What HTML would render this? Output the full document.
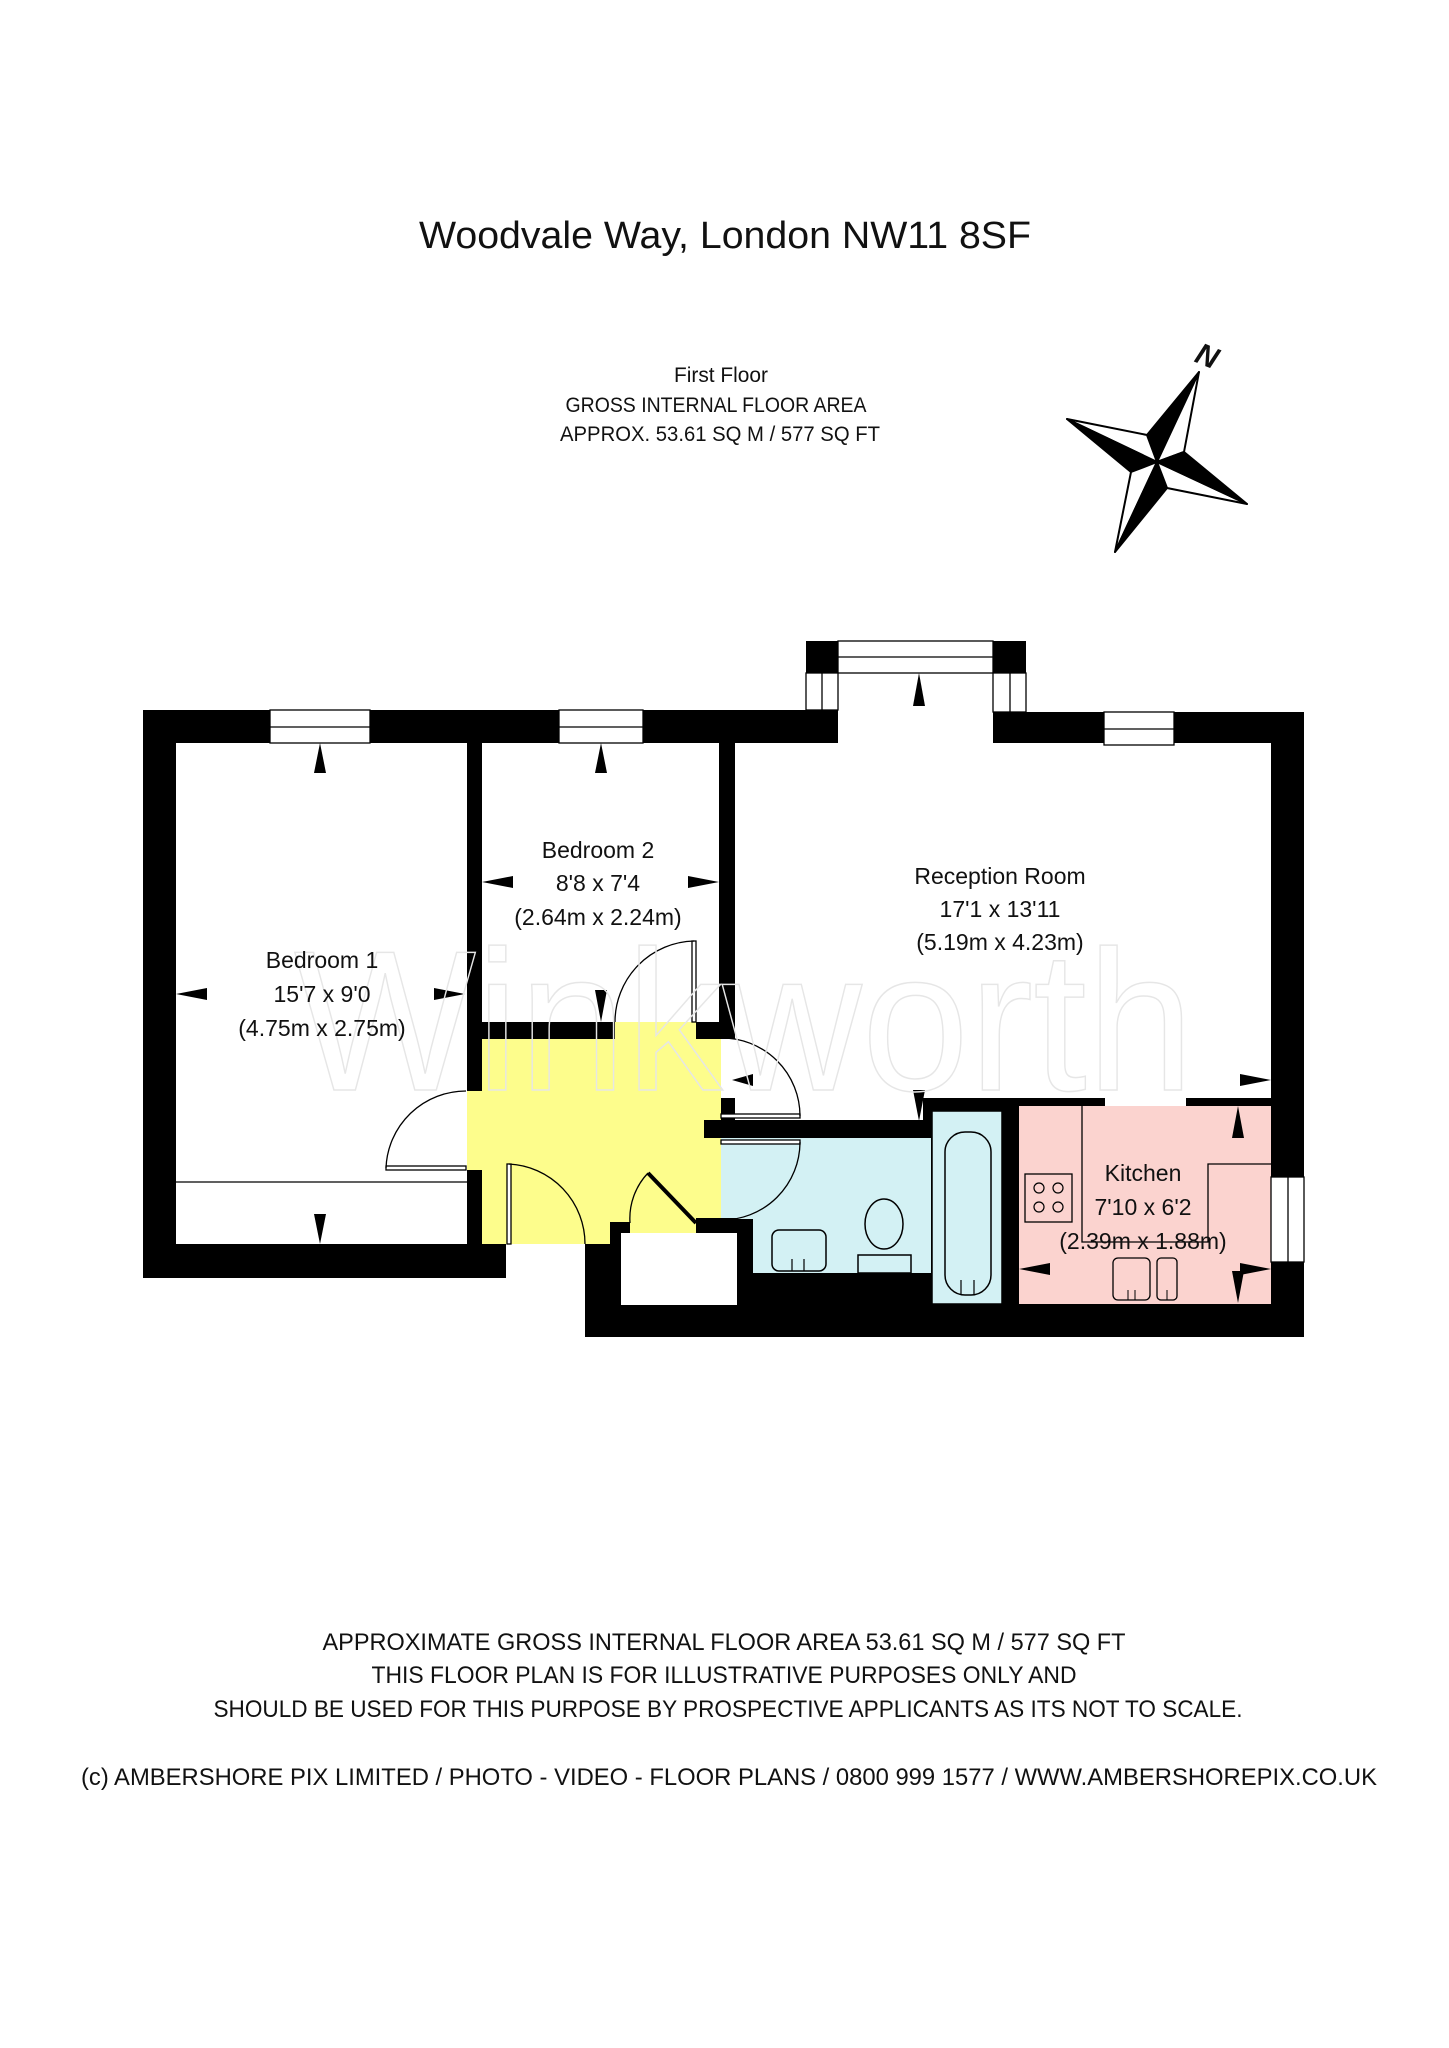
<!DOCTYPE html>
<html><head><meta charset="utf-8"><style>
html,body{margin:0;padding:0;background:#fff;}
svg{display:block;}
text{font-family:"Liberation Sans",sans-serif;fill:#111;}
</style></head><body>
<svg width="1449" height="2048" viewBox="0 0 1449 2048" xmlns="http://www.w3.org/2000/svg">
<rect width="1449" height="2048" fill="#fff"/>
<text x="725" y="248" font-size="38" text-anchor="middle" textLength="612" lengthAdjust="spacingAndGlyphs">Woodvale Way, London NW11 8SF</text>
<text x="721" y="382" font-size="21" text-anchor="middle" textLength="94" lengthAdjust="spacingAndGlyphs">First Floor</text>
<text x="716" y="412" font-size="21" text-anchor="middle" textLength="301" lengthAdjust="spacingAndGlyphs">GROSS INTERNAL FLOOR AREA</text>
<text x="720" y="441" font-size="21" text-anchor="middle" textLength="320" lengthAdjust="spacingAndGlyphs">APPROX. 53.61 SQ M / 577 SQ FT</text>

<!-- compass -->
<g stroke="#000" stroke-width="2" stroke-linejoin="round">
<polygon points="1157,462 1199,372 1147,435" fill="#000"/>
<polygon points="1157,462 1199,372 1184,452" fill="#fff"/>
<polygon points="1157,462 1067,419 1147,435" fill="#fff"/>
<polygon points="1157,462 1067,419 1131,472" fill="#000"/>
<polygon points="1157,462 1115,552 1131,472" fill="#fff"/>
<polygon points="1157,462 1115,552 1167,488" fill="#000"/>
<polygon points="1157,462 1247,504 1167,488" fill="#fff"/>
<polygon points="1157,462 1247,504 1184,452" fill="#000"/>
</g>
<text x="1207" y="366" font-size="30" font-weight="bold" font-style="italic" text-anchor="middle" transform="rotate(22 1207 356)">N</text>

<!-- walls base -->
<g fill="#000">
<rect x="143" y="710" width="363" height="568"/>
<rect x="467" y="710" width="268" height="329"/>
<rect x="735" y="710" width="103" height="33"/>
<rect x="806" y="641" width="32" height="102"/>
<rect x="993" y="641" width="33" height="104"/>
<rect x="993" y="712" width="311" height="625"/>
<rect x="585" y="1098" width="719" height="239"/>
</g>
<!-- rooms -->
<rect x="176" y="743" width="291" height="501" fill="#fff"/>
<rect x="482" y="743" width="237" height="279" fill="#fff"/>
<rect x="735" y="743" width="536" height="355" fill="#fff"/>
<rect x="838" y="673" width="155" height="72" fill="#fff"/>
<rect x="735" y="1098" width="188" height="23" fill="#fff"/>
<rect x="1105" y="1098" width="81" height="10" fill="#fff"/>
<!-- hall -->
<polygon points="482,1039 615,1039 615,1022 696,1022 696,1039 721,1039 721,1222 610,1222 610,1244 482,1244" fill="#fdfd8c"/>
<rect x="467" y="1091" width="16" height="79" fill="#fdfd8c"/>
<!-- lower white gap & cupboard -->
<rect x="506" y="1244" width="79" height="34" fill="#fff"/>
<rect x="630" y="1222" width="66" height="11" fill="#fdfd8c"/>
<rect x="621" y="1233" width="116" height="72" fill="#fff"/>
<!-- bathroom -->
<rect x="704" y="1120" width="219" height="18" fill="#000"/>
<polygon points="721,1138 931,1138 931,1273 753,1273 753,1219 721,1219" fill="#d3f1f4"/>
<rect x="721" y="1138" width="0" height="0"/>
<rect x="932" y="1111" width="70" height="193" fill="#d3f1f4" stroke="#000" stroke-width="1.5"/>
<rect x="945" y="1132" width="46" height="163" rx="20" fill="none" stroke="#000" stroke-width="1.5"/>
<path d="M961 1295 v-15 M974 1295 v-15" stroke="#000" stroke-width="1.2"/>
<rect x="772" y="1230" width="54" height="41" rx="7" fill="none" stroke="#000" stroke-width="1.5"/>
<path d="M792 1271 v-12 M804 1271 v-12" stroke="#000" stroke-width="1.2"/>
<ellipse cx="884" cy="1224" rx="19" ry="25" fill="none" stroke="#000" stroke-width="1.5"/>
<rect x="858" y="1255" width="53" height="18" fill="none" stroke="#000" stroke-width="1.5"/>
<!-- kitchen -->
<rect x="1019" y="1106" width="252" height="198" fill="#fbd3cf"/>
<path d="M1082 1106 V1242 H1208 V1164 H1271" fill="none" stroke="#000" stroke-width="1.3"/>
<rect x="1025" y="1174" width="47" height="48" fill="none" stroke="#000" stroke-width="1.3"/>
<g fill="none" stroke="#000" stroke-width="1.2"><circle cx="1039" cy="1188" r="5"/><circle cx="1058" cy="1188" r="5"/><circle cx="1039" cy="1207" r="5"/><circle cx="1058" cy="1207" r="5"/></g>
<rect x="1113" y="1258" width="37" height="42" rx="5" fill="none" stroke="#000" stroke-width="1.3"/>
<rect x="1157" y="1258" width="20" height="42" rx="4" fill="none" stroke="#000" stroke-width="1.3"/>
<path d="M1128 1300 v-10 M1135 1300 v-10 M1167 1300 v-10" stroke="#000" stroke-width="1"/>

<!-- windows -->
<g fill="#fff" stroke="#000" stroke-width="1.3">
<rect x="270" y="710" width="100" height="33"/><line x1="270" y1="727" x2="370" y2="727"/>
<rect x="559" y="710" width="84" height="33"/><line x1="559" y1="727" x2="643" y2="727"/>
<rect x="1104" y="712" width="70" height="33"/><line x1="1104" y1="729" x2="1174" y2="729"/>
<rect x="838" y="641" width="155" height="32"/><line x1="838" y1="657" x2="993" y2="657"/>
<rect x="806" y="673" width="32" height="37"/><line x1="822" y1="673" x2="822" y2="710"/>
<rect x="993" y="673" width="33" height="39"/><line x1="1010" y1="673" x2="1010" y2="712"/>
<rect x="1271" y="1177" width="33" height="85"/><line x1="1288" y1="1177" x2="1288" y2="1262"/>
</g>
<line x1="176" y1="1182" x2="467" y2="1182" stroke="#000" stroke-width="1.3"/>

<!-- doors -->
<g fill="none" stroke="#000" stroke-width="1.3">
<rect x="386" y="1166" width="80" height="4" fill="#fff"/>
<path d="M386 1168 A80 80 0 0 1 466 1091"/>
<rect x="692" y="941" width="4" height="81" fill="#fff"/>
<path d="M615 1022 A81 81 0 0 1 694 941"/>
<rect x="507" y="1164" width="4" height="80" fill="#fff"/>
<path d="M509 1164 A80 80 0 0 1 585 1244"/>
<path d="M648 1173 L696 1223" stroke-width="4"/>
<path d="M630 1223 A66 66 0 0 1 648 1173"/>
<rect x="721" y="1114" width="79" height="4" fill="#fff"/>
<path d="M721 1038 A78 78 0 0 1 800 1116"/>
<rect x="721" y="1140" width="79" height="4" fill="#fff"/>
<path d="M800 1142 A78 78 0 0 1 721 1220"/>
</g>
<rect x="696" y="1218" width="41" height="15" fill="#000"/>
<rect x="610" y="1222" width="20" height="11" fill="#000"/>

<!-- arrows -->
<g fill="#000">
<polygon points="320,743 314,773 326,773"/>
<polygon points="176,994 207,988 207,1000"/>
<polygon points="465,994 434,988 434,1000"/>
<polygon points="320,1244 314,1214 326,1214"/>
<polygon points="601,743 595,773 607,773"/>
<polygon points="482,882 513,876 513,888"/>
<polygon points="719,882 688,876 688,888"/>
<polygon points="601,1022 595,990 607,990"/>
<polygon points="919,673 913,706 925,706"/>
<polygon points="1271,1080 1240,1074 1240,1086"/>
<polygon points="919,1121 913,1090 925,1090"/>
<polygon points="732,1080 753,1074 753,1086"/>
<polygon points="1238,1106 1232,1138 1244,1138"/>
<polygon points="1019,1269 1050,1263 1050,1275"/>
<polygon points="1271,1269 1240,1263 1240,1275"/>
<polygon points="1238,1303 1232,1271 1244,1271"/>
</g>

<!-- watermark -->
<text x="744" y="1090" font-family="Liberation Serif,serif" font-size="200" text-anchor="middle" style="fill:none;stroke:#e6e6e6;stroke-width:1.5" textLength="900" lengthAdjust="spacingAndGlyphs">Winkworth</text>

<!-- labels -->
<g font-size="23" text-anchor="middle">
<text x="322" y="968" fill="#333">Bedroom 1</text>
<text x="322" y="1002">15'7 x 9'0</text>
<text x="322" y="1036">(4.75m x 2.75m)</text>
<text x="598" y="858">Bedroom 2</text>
<text x="598" y="891">8'8 x 7'4</text>
<text x="598" y="925">(2.64m x 2.24m)</text>
<text x="1000" y="884">Reception Room</text>
<text x="1000" y="917">17'1 x 13'11</text>
<text x="1000" y="950">(5.19m x 4.23m)</text>
<text x="1143" y="1181">Kitchen</text>
<text x="1143" y="1215">7'10 x 6'2</text>
<text x="1143" y="1249">(2.39m x 1.88m)</text>
</g>

<g font-size="24" text-anchor="middle">
<text x="724" y="1650" textLength="803" lengthAdjust="spacingAndGlyphs">APPROXIMATE GROSS INTERNAL FLOOR AREA 53.61 SQ M / 577 SQ FT</text>
<text x="724" y="1683" textLength="705" lengthAdjust="spacingAndGlyphs">THIS FLOOR PLAN IS FOR ILLUSTRATIVE PURPOSES ONLY AND</text>
<text x="728" y="1717" textLength="1029" lengthAdjust="spacingAndGlyphs">SHOULD BE USED FOR THIS PURPOSE BY PROSPECTIVE APPLICANTS AS ITS NOT TO SCALE.</text>
<text x="729" y="1785" textLength="1296" lengthAdjust="spacingAndGlyphs">(c) AMBERSHORE PIX LIMITED / PHOTO - VIDEO - FLOOR PLANS / 0800 999 1577 / WWW.AMBERSHOREPIX.CO.UK</text>
</g>
</svg>
</body></html>
